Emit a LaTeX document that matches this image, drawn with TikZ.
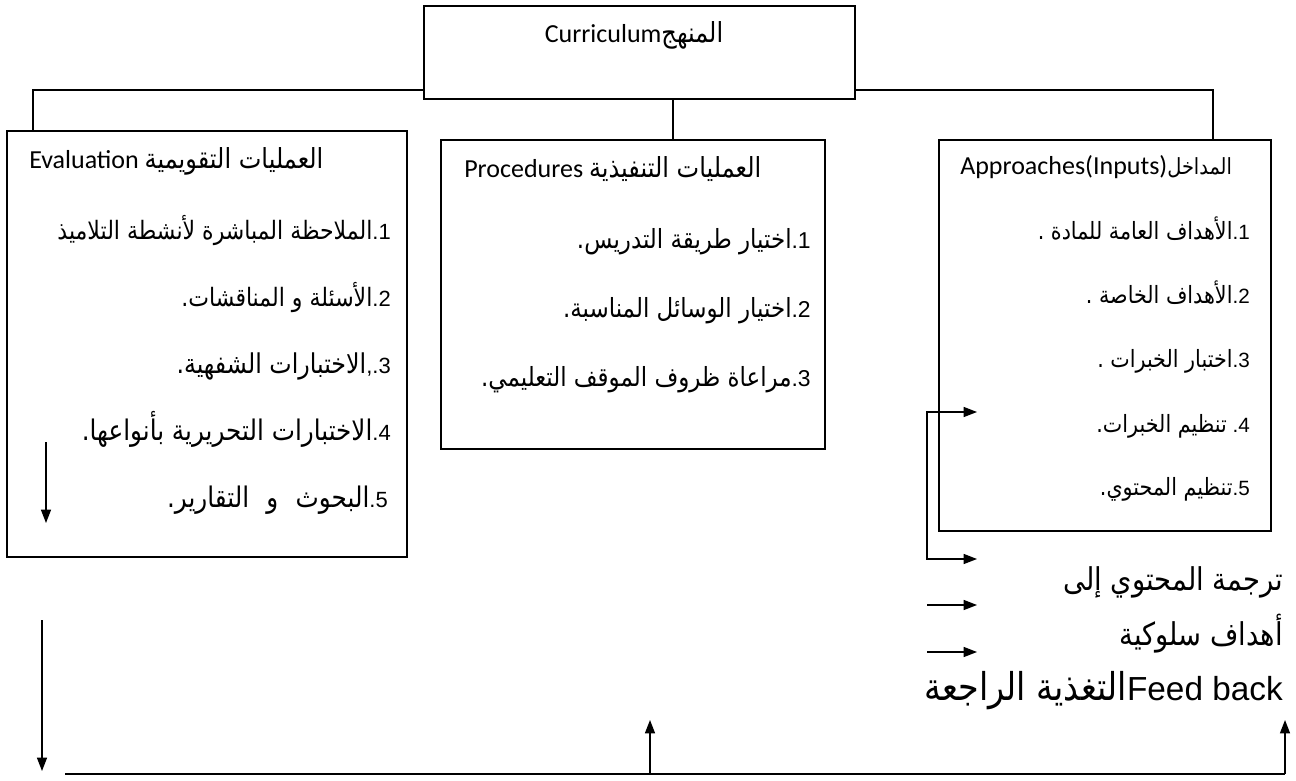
\documentclass[tikz,border=0pt]{standalone}
\usepackage{fontspec}
\setmainfont{Carlito}
\newfontfamily\arfont[Script=Arabic, FakeStretch=0.87, Scale=1.15]{DejaVu Sans}
\newfontfamily\arialfont{Liberation Sans}
\TeXXeTstate=1
\usetikzlibrary{arrows.meta,fit}
\newcommand{\AR}[1]{{\arfont\beginR #1\endR}}
\newcommand{\setsz}[1]{\fontsize{#1}{#1}\selectfont}
\begin{document}
\begin{tikzpicture}[x=0.75pt,y=-0.75pt,
  box/.style={draw, line width=1.3pt, fill=white, inner sep=0pt},
  conn/.style={line width=1pt},
  arr/.style={conn,-{Triangle[length=10pt,width=7.5pt]}},
  ttl/.style={inner sep=0pt, anchor=base west, font=\fontsize{19.5}{23}\selectfont},
  itm/.style={inner sep=0pt, anchor=base east, font=\fontsize{16.5}{20}\selectfont},
  itmm/.style={inner sep=0pt, anchor=base east, font=\fontsize{17.2}{20}\selectfont},
  itms/.style={inner sep=0pt, anchor=base east, font=\fontsize{15.5}{18}\selectfont},
  big/.style={inner sep=0pt, anchor=base east, font=\fontsize{20.5}{25}\selectfont}]
\useasboundingbox (0,0) rectangle (1296,781);
% box corners
\coordinate (ta) at (424,6);   \coordinate (tb) at (855,99);
\coordinate (la) at (7,131);   \coordinate (lb) at (407,557);
\coordinate (ma) at (441,140); \coordinate (mb) at (825,449);
\coordinate (ra) at (939,140); \coordinate (rb) at (1271,531);
% connectors of the tree
\coordinate (hl) at (33,90);
\coordinate (hr) at (1213,90);
\coordinate (mv) at (673,0);
\draw[conn] (hl |- la) -- (hl) -- (hr) -- (hr |- ra);
\draw[conn] (mv |- tb) -- (mv |- ma);
% boxes
\node[box, fit=(ta)(tb)] (top) {};
\node[box, fit=(la)(lb)] (lbox) {};
\node[box, fit=(ma)(mb)] (mbox) {};
\node[box, fit=(ra)(rb)] (rbox) {};
% top text
\node[ttl, anchor=base] (ttext) at (634,43) {Curriculum{\setsz{18}\arfont\beginR المنهج\endR}};
% left box
\node[ttl] (ltitle) at (29,169) {Evaluation {\setsz{18}\arfont\beginR العمليات التقويمية\endR}};
\node[itm] (l1) at (391,239) {\AR{الملاحظة المباشرة لأنشطة التلاميذ}{\arialfont .1}};
\node[itm] (l2) at (391,306) {\AR{الأسئلة و المناقشات.}{\arialfont .2}};
\node[itm, font=\setsz{17.8}] (l3) at (391,373) {\AR{الاختبارات الشفهية.}{\setsz{16.5}\arialfont ,.3}};
\node[itm, font=\setsz{18.5}] (l4) at (391,440) {\AR{الاختبارات التحريرية بأنواعها.}{\setsz{16.5}\arialfont .4}};
\node[itm, font=\setsz{18.5}] (l5) at (388,507) {{\spaceskip=0.7em\AR{البحوث و التقارير.}}{\setsz{16.5}\arialfont .5}};
% middle box
\node[ttl] (mtitle) at (464,178) {Procedures {\setsz{18}\arfont\beginR العمليات التنفيذية\endR}};
\node[itmm] (m1) at (811,248) {\AR{اختيار طريقة التدريس.}{\arialfont .1}};
\node[itmm] (m2) at (811,317) {\AR{اختيار الوسائل المناسبة.}{\arialfont .2}};
\node[itmm] (m3) at (811,386) {\AR{مراعاة ظروف الموقف التعليمي.}{\arialfont .3}};
% right box
\node[ttl] (rtitle) at (960,175) {Approaches(Inputs){\setsz{14.5}\arfont\beginR المداخل\endR}};
\node[itms] (r1) at (1250,239) {\AR{الأهداف العامة للمادة .}{\arialfont .1}};
\node[itms] (r2) at (1250,303) {\AR{الأهداف الخاصة .}{\arialfont .2}};
\node[itms] (r3) at (1250,367) {\AR{اختبار الخبرات .}{\arialfont .3}};
\node[itms] (r4) at (1250,432) {\AR{تنظيم الخبرات.}{\arialfont\ .4}};
\node[itms] (r5) at (1250,495) {\AR{تنظيم المحتوي.}{\arialfont .5}};
% bottom right texts
\node[big] (b1) at (1283,590) {\AR{ترجمة المحتوي إلى}};
\node[big] (b2) at (1283,645) {\AR{أهداف سلوكية}};
\node[big, font=\setsz{25}] (b3) at (1283,700) {\AR{التغذية الراجعة}{\arialfont Feed back}};
% arrows
\coordinate (vx) at (927,485);
\coordinate (a4) at (977,412);
\coordinate (a5) at (977,559);
\draw[arr] (vx) |- (a4);
\draw[arr] (vx) |- (a5);
\coordinate (s6) at (927,605); \coordinate (e6) at (977,605);
\coordinate (s7) at (927,652); \coordinate (e7) at (977,652);
\draw[arr] (s6) -- (e6);
\draw[arr] (s7) -- (e7);
\coordinate (d1s) at (46,442); \coordinate (d1e) at (46,523);
\draw[arr] (d1s) -- (d1e);
\coordinate (d2s) at (42,620); \coordinate (d2e) at (42,771);
\draw[arr] (d2s) -- (d2e);
\coordinate (bl) at (65,774); \coordinate (br) at (1285,774);
\coordinate (um) at (650,774); \coordinate (umt) at (650,720);
\coordinate (urt) at (1285,720);
\draw[conn] (bl) -- (br);
\draw[arr] (um) -- (umt);
\draw[arr] (br) -- (urt);
\end{tikzpicture}
\end{document}
